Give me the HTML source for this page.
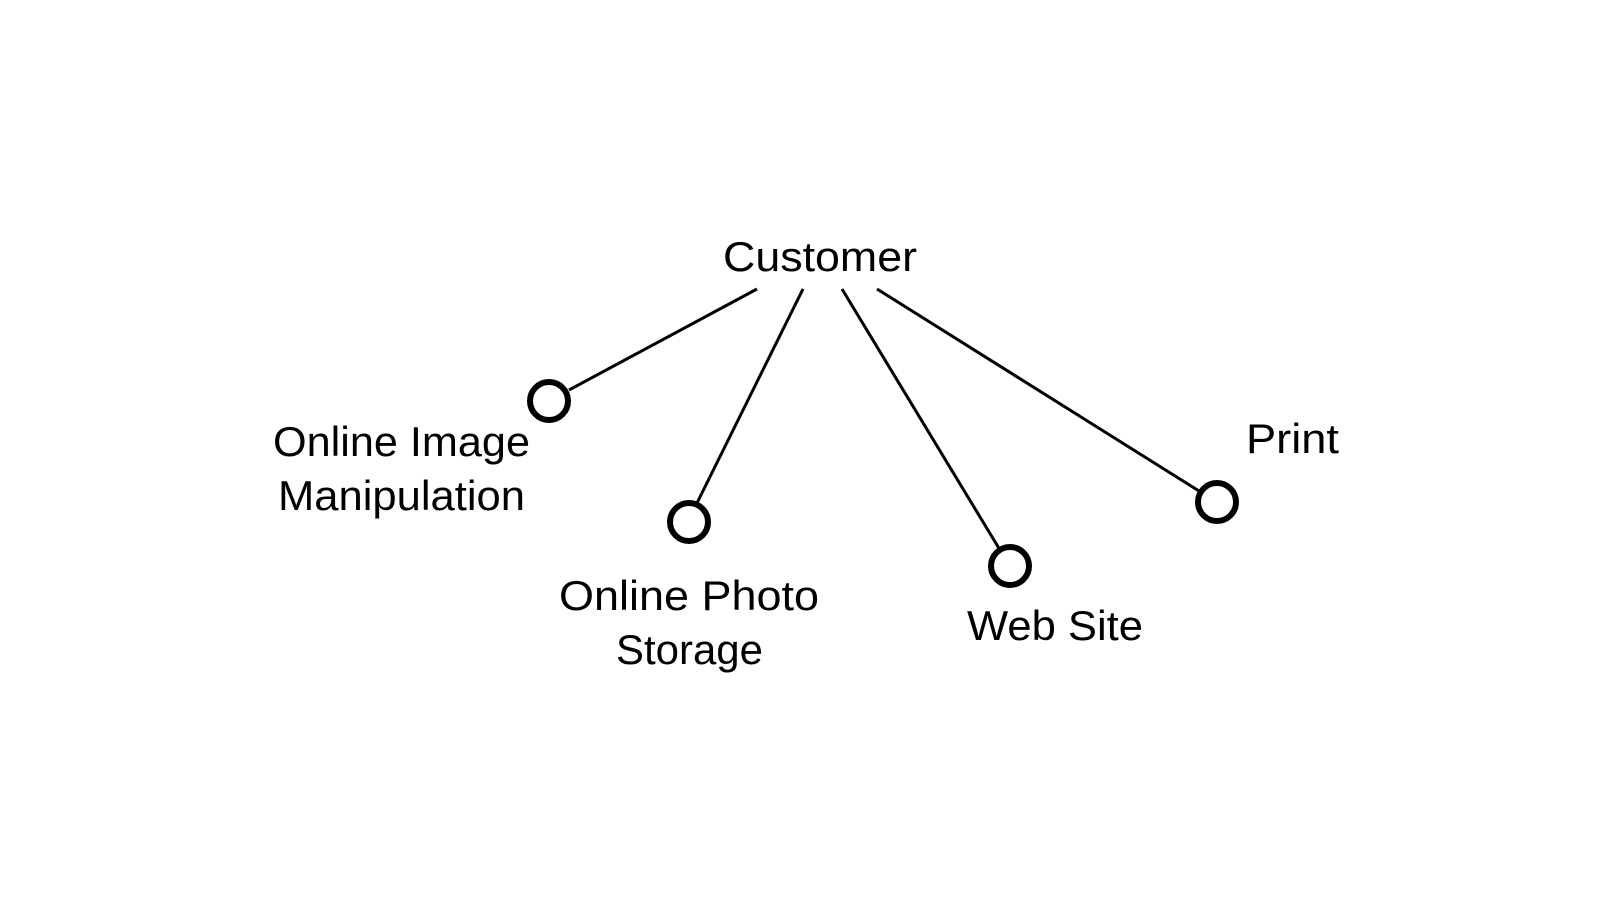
<!DOCTYPE html>
<html><head><meta charset="utf-8"><style>
html,body{margin:0;padding:0;background:#fff;}
svg{display:block;}
text{font-family:"Liberation Sans",sans-serif;font-size:42px;fill:#000;}
</style></head><body>
<svg width="1600" height="919" viewBox="0 0 1600 919" xmlns="http://www.w3.org/2000/svg">
<g stroke="#000" stroke-width="3" fill="none">
<line x1="757" y1="289" x2="569" y2="390"/>
<line x1="803" y1="289" x2="697" y2="503"/>
<line x1="842" y1="289" x2="1000" y2="550"/>
<line x1="877" y1="289" x2="1199" y2="491"/>
</g>
<g stroke="#000" stroke-width="6" fill="none">
<circle cx="549" cy="401" r="19"/>
<circle cx="689" cy="522" r="19"/>
<circle cx="1010" cy="566" r="19"/>
<circle cx="1217" cy="502" r="19"/>
</g>
<text x="723" y="271" textLength="194" lengthAdjust="spacingAndGlyphs">Customer</text>
<text x="273" y="456" textLength="257" lengthAdjust="spacingAndGlyphs">Online Image</text>
<text x="278" y="510" textLength="247" lengthAdjust="spacingAndGlyphs">Manipulation</text>
<text x="559" y="610" textLength="260" lengthAdjust="spacingAndGlyphs">Online Photo</text>
<text x="616" y="664" textLength="147" lengthAdjust="spacingAndGlyphs">Storage</text>
<text x="967" y="640" textLength="176" lengthAdjust="spacingAndGlyphs">Web Site</text>
<text x="1246" y="453" textLength="93" lengthAdjust="spacingAndGlyphs">Print</text>
</svg>
</body></html>
